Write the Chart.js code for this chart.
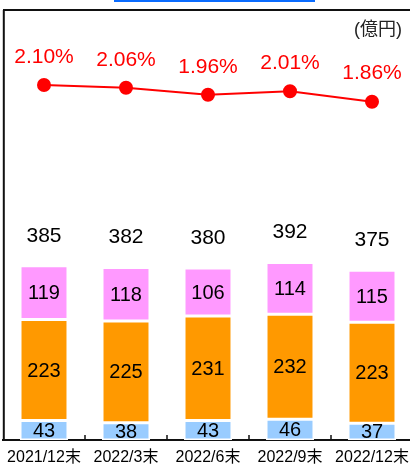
<!DOCTYPE html>
<html>
<head>
<meta charset="utf-8">
<script src="https://cdn.jsdelivr.net/npm/chart.js@4.4.0/dist/chart.umd.min.js"></script>
<style>
  html, body { margin: 0; padding: 0; background: #fff; overflow: hidden; }
  #wrap { position: relative; width: 410px; height: 466px; overflow: hidden; }
  #link { position: absolute; left: 114px; top: 0; width: 201px; height: 2px; background: #0a6cff; }
  #unit { position: absolute; left: 354px; top: 14px; line-height: 20px; font: 18px "Liberation Sans", "Noto Sans CJK JP", sans-serif; color: #222; white-space: nowrap; }
  canvas { position: absolute; left: 0; top: 0; }
</style>
</head>
<body>
<div id="wrap">
  <canvas id="chart" width="414" height="466"></canvas>
  <div id="link"></div>
  <div id="unit">(億円)</div>
</div>
<script>
// values
const periods = ['2021/12末', '2022/3末', '2022/6末', '2022/9末', '2022/12末'];
const blueVals = [43, 38, 43, 46, 37];
const orangeVals = [223, 225, 231, 232, 223];
const pinkVals = [119, 118, 106, 114, 115];
const totals = [385, 382, 380, 392, 375];
const ratios = [2.10, 2.06, 1.96, 2.01, 1.86];

const FONT = '"Liberation Sans", Arial, "Noto Sans CJK JP", sans-serif';

// frame lines and small ticks between categories
const framePlugin = {
    id: 'frame',
    afterDraw(chart) {
        const ctx = chart.ctx;
        const area = chart.chartArea;
        const x = chart.scales.x;
        ctx.save();
        ctx.strokeStyle = '#111';
        ctx.lineWidth = 2;
        ctx.beginPath();
        ctx.moveTo(3.8, area.top);
        ctx.lineTo(3.8, area.bottom);
        ctx.moveTo(3, area.top);
        ctx.lineTo(chart.width, area.top);
        ctx.stroke();
        ctx.lineWidth = 1.5;
        ctx.beginPath();
        for (let j = 1; j < periods.length; j++) {
            const px = Math.round((x.getPixelForValue(j - 1) + x.getPixelForValue(j)) / 2);
            ctx.moveTo(px, area.bottom - 5);
            ctx.lineTo(px, area.bottom);
        }
        ctx.stroke();
        ctx.restore();
    }
};

// value labels on segments, totals above bars, percentages above points
const labelPlugin = {
    id: 'labels',
    afterDatasetsDraw(chart) {
        const ctx = chart.ctx;
        ctx.save();
        ctx.textAlign = 'center';
        ctx.textBaseline = 'middle';
        ctx.fillStyle = '#000';
        ctx.font = '20px ' + FONT;
        [0, 1, 2].forEach(i => {
            const meta = chart.getDatasetMeta(i);
            const vals = chart.data.datasets[i].data;
            meta.data.forEach((bar, j) => {
                const p = bar.getProps(['x', 'y', 'base'], true);
                ctx.fillText(String(vals[j]), p.x, (p.y + p.base) / 2 + 1);
            });
        });
        ctx.font = '21px ' + FONT;
        chart.getDatasetMeta(2).data.forEach((bar, j) => {
            const p = bar.getProps(['x', 'y'], true);
            ctx.fillText(String(totals[j]), p.x, p.y - 30);
        });
        ctx.fillStyle = '#ff0000';
        chart.getDatasetMeta(3).data.forEach((pt, j) => {
            const p = pt.getProps(['x', 'y'], true);
            ctx.fillText(ratios[j].toFixed(2) + '%', p.x, p.y - 28);
        });
        ctx.restore();
    }
};

const barCommon = {
    type: 'bar',
    yAxisID: 'y',
    borderColor: '#ffffff',
    borderWidth: 1.5,
    borderSkipped: false,
    barPercentage: 0.585,
    categoryPercentage: 1,
    order: 1
};

new Chart(document.getElementById('chart').getContext('2d'), {
    data: {
        labels: periods,
        datasets: [
            Object.assign({ label: 'blue', data: blueVals, backgroundColor: '#99ccff' }, barCommon),
            Object.assign({ label: 'orange', data: orangeVals, backgroundColor: '#ff9900' }, barCommon),
            Object.assign({ label: 'pink', data: pinkVals, backgroundColor: '#ff99ff' }, barCommon),
            {
                type: 'line',
                label: 'ratio',
                data: ratios,
                yAxisID: 'y1',
                borderColor: '#ff0000',
                backgroundColor: '#ff0000',
                borderWidth: 2,
                pointRadius: 6,
                pointHoverRadius: 6,
                tension: 0,
                order: 0
            }
        ]
    },
    options: {
        responsive: false,
        animation: false,
        devicePixelRatio: 1,
        layout: { autoPadding: false, padding: { left: 3, right: 1, top: 10, bottom: 0 } },
        plugins: { legend: { display: false }, tooltip: { enabled: false } },
        scales: {
            x: {
                stacked: true,
                offset: true,
                grid: { display: false, drawTicks: false },
                border: { display: true, color: '#111', width: 2 },
                ticks: {
                    color: '#000',
                    font: { size: 16, family: FONT },
                    padding: 8,
                    maxRotation: 0,
                    autoSkip: false
                },
                afterFit(scale) {
                    scale.height = 26;
                    scale.paddingLeft = 0;
                    scale.paddingRight = 0;
                }
            },
            y: {
                stacked: true,
                display: false,
                min: 0,
                max: 950
            },
            y1: {
                display: false,
                min: -3.01,
                max: 3.18
            }
        }
    },
    plugins: [framePlugin, labelPlugin]
});
</script>
</body>
</html>
